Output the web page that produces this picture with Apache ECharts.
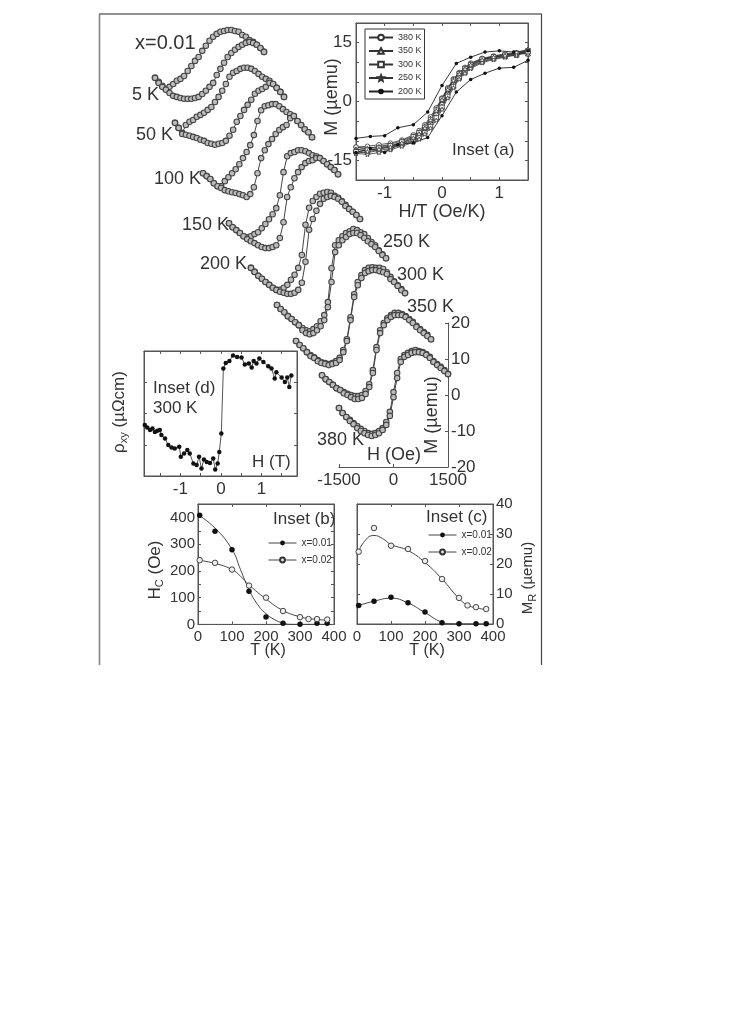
<!DOCTYPE html>
<html><head><meta charset="utf-8">
<style>html,body{margin:0;padding:0;background:#fff}#c{width:739px;height:1024px}</style>
<script src="https://cdn.jsdelivr.net/npm/echarts@6/dist/echarts.min.js"></script>
</head><body><div id="c"></div>
<script>
// ---- main panel: M(H) loops, Oe / µemu
const fieldOe=[-1500,-1400,-1300,-1200,-1100,-1000,-900,-800,-700,-600,-500,-400,-300,-200,-100,0,100,200,300,400,500,600,700,800,900,1000,1100,1200,1300,1400,1500];
const loopNames=['loop 5K','loop 50K','loop 100K','loop 150K','loop 200K','loop 250K','loop 300K','loop 350K','loop 380K'];
const loopShiftH=[-5064,-4514,-3743,-3027,-2422,-1706,-1183,-468,0];
const loopShiftM=[91.7,80.6,69.4,56.9,43.1,33.3,22.2,11.1,0];
const m5Up=[-3.6,-4.7,-5.8,-6.7,-6.1,-5.3,-4.4,-3.9,-3.1,-1.7,-.3,1.1,2.2,3.9,5.3,6.7,7.8,8.6,9.2,9.4,9.7,9.7,9.4,9.2,8.3,7.8,6.9,6.4,5.6,4.7,3.6];
const m5Dn=[-3.6,-5,-6.1,-6.9,-7.8,-8.6,-8.9,-9.2,-9.4,-9.4,-9.4,-9.2,-8.9,-8.1,-7.2,-6.1,-5,-2.8,-1.1,.6,2.2,3.3,4.2,5,5.6,6.1,6.4,6.1,5.6,4.7,3.6];
const m50Up=[-5,-6.4,-7.8,-5.6,-4.7,-4.2,-3.3,-2.8,-2.2,-1.4,-.6,.8,2.2,3.9,5.8,7.8,8.9,9.4,10,10.3,10.3,10,9.4,8.6,7.8,7.2,6.7,5.8,4.7,3.6,2.2];
const m50Dn=[-5,-6.4,-8.1,-8.3,-8.6,-8.9,-9.2,-9.7,-10,-10.6,-10.8,-11.1,-10.8,-10.6,-10,-8.6,-6.9,-4.7,-3.1,-1.4,0,1.4,3.1,3.9,4.4,5,6.1,5.8,4.7,3.6,2.2];
const m100Up=[-7.8,-8.6,-9.4,-10.6,-11.4,-11.4,-10,-8.9,-7.8,-6.7,-5.3,-3.6,-1.9,0,2.8,6.7,9.7,10.8,11.1,11.4,11.4,10.8,10,9.2,8.6,8.1,6.7,5.6,4.4,3.6,2.2];
const m100Dn=[-7.8,-8.6,-9.4,-10.6,-11.4,-11.9,-12.5,-12.8,-13.1,-13.3,-13.6,-13.9,-14.4,-13.6,-11.7,-7.8,-3.6,-1.4,.3,1.7,3.1,4.2,5,5.6,7.5,8.1,6.7,5.6,4.4,3.6,2.2];
const m150Up=[-9.2,-10.3,-11.1,-11.9,-12.8,-13.1,-12.8,-12.2,-11.7,-10.6,-9.4,-8.1,-6.7,-5,-1.4,5,9.4,10.3,10.6,11.1,11.1,10.8,10.3,9.7,9.4,8.9,8.1,7.2,6.4,5.6,4.4];
const m150Dn=[-9.2,-10.3,-11.1,-11.9,-12.8,-13.6,-14.2,-14.7,-15.3,-15.8,-16.1,-16.1,-15.8,-15.3,-13.3,-8.9,-1.9,.8,3.3,5,6.4,7.5,8.1,8.3,8.9,8.9,8.1,7.2,6.4,5.6,4.4];
const m200Up=[-7.8,-8.9,-10,-10.8,-11.7,-12.5,-13.3,-13.9,-13.9,-13.3,-12.5,-11.1,-9.7,-7.8,-4.2,4.2,8.9,10.8,11.9,12.8,13.1,13.3,13.1,12.2,11.7,10.8,9.7,8.6,7.8,6.9,5.8];
const m200Dn=[-7.8,-8.9,-10,-10.8,-11.7,-12.5,-13.3,-13.9,-14.4,-14.7,-15,-15,-14.7,-13.9,-11.9,-6.1,2.8,5.8,8.1,10,11.4,11.9,12.2,11.9,11.4,10.6,9.4,8.6,7.8,6.9,5.8];
const m250Up=[-8.3,-9.4,-10.3,-11.4,-12.2,-13.1,-13.9,-14.7,-15.3,-15.6,-15,-14.2,-12.8,-11.1,-7.5,1.9,8.3,9.7,10.8,11.7,12.2,12.8,12.5,11.9,11.4,10.3,9.2,8.3,6.9,5.8,4.7];
const m250Dn=[-8.3,-9.4,-10.3,-11.4,-12.2,-13.1,-13.9,-15.3,-16.1,-16.4,-16.1,-15.3,-14.2,-12.5,-8.9,-1.9,6.4,8.3,9.7,10.6,11.4,11.7,11.7,11.1,10.3,9.4,8.6,7.8,6.7,5.6,4.7];
const m300Up=[-7.2,-8.3,-9.2,-10.3,-11.1,-11.7,-12.5,-13.1,-13.3,-13.6,-13.3,-12.8,-11.9,-9.7,-6.7,-.6,5.8,9.2,11.1,12.5,13.1,13.3,13.1,13.1,12.8,11.9,10.6,9.4,8.3,7.2,6.1];
const m300Dn=[-7.2,-8.3,-9.2,-10.3,-11.4,-11.9,-12.8,-13.3,-13.6,-13.9,-13.6,-13.3,-12.5,-10.3,-7.2,-1.4,5,8.3,10.3,11.7,12.2,12.5,12.5,12.2,11.9,11.4,10,9.2,8.1,6.9,6.1];
const m350Up=[-5.6,-6.7,-7.5,-8.3,-9.2,-9.7,-10.3,-10.8,-11.1,-11.4,-11.4,-11.1,-10,-8.1,-4.2,2.2,6.9,8.9,10.3,11.1,11.7,11.7,11.4,10.8,10,9.2,8.1,7.2,6.4,5.6,4.4];
const m350Dn=[-5.6,-6.7,-7.5,-8.3,-9.2,-9.7,-10.6,-11.1,-11.7,-12.2,-12.2,-11.9,-10.8,-8.9,-5,1.4,6.1,8.3,9.7,10.6,11.1,11.1,11.1,10.6,9.7,8.9,7.8,6.9,6.1,5.3,4.4];
const m380Up=[-3.6,-5,-6.1,-6.9,-7.8,-8.6,-9.4,-10,-10.6,-10.8,-10.6,-10,-9.2,-7.5,-4.7,.8,6.1,10,11.1,11.7,12.2,12.5,12.2,11.9,11.4,10.6,9.4,8.6,7.8,6.9,5.8];
const m380Dn=[-3.6,-5,-6.1,-7.2,-8.1,-9.2,-10,-10.6,-11.1,-11.4,-11.1,-10.6,-9.7,-8.3,-5.8,-.6,4.7,9.2,10.6,11.1,11.7,11.9,11.9,11.7,11.1,10.3,9.2,8.3,7.5,6.7,5.8];
const loopUp=[m5Up,m50Up,m100Up,m150Up,m200Up,m250Up,m300Up,m350Up,m380Up];
const loopDn=[m5Dn,m50Dn,m100Dn,m150Dn,m200Dn,m250Dn,m300Dn,m350Dn,m380Dn];
// ---- inset (a)
const hOverT=[-1.5,-1.3,-1.1,-.9,-.7,-.5,-.4,-.3,-.2,-.1,0,.1,.2,.3,.4,.5,.7,.9,1.1,1.3,1.5];
const a380Up=[-11.6,-11.9,-11.5,-11.2,-10.6,-9.4,-8.6,-7.2,-5.6,-3.4,-.8,1.8,4.4,6.4,7.9,9.1,10.6,11.3,11.8,12.1,12.6];
const a380Dn=[-11.6,-11.4,-11,-10.6,-9.8,-8.5,-7.4,-5.9,-3.9,-1.6,.9,3.5,5.8,7.4,8.7,9.8,11,11.6,12.2,12.4,12.6];
const a350Up=[-12.2,-12.4,-12,-11.5,-10.8,-9.8,-8.9,-7.6,-6,-3.9,-1.2,1.5,4.1,6.1,7.7,8.9,10.3,11.1,11.6,12,12.2];
const a350Dn=[-12.2,-11.9,-11.5,-10.9,-10,-8.8,-7.7,-6.2,-4.3,-1.9,.8,3.3,5.6,7.3,8.5,9.6,10.9,11.5,12,12.3,12.2];
const a300Up=[-12.8,-13,-12.5,-12,-11,-10.1,-9.2,-8,-6.4,-4.2,-1.5,1.3,3.8,6,7.4,8.7,10.1,10.9,11.5,11.8,12.7];
const a300Dn=[-12.8,-12.4,-11.9,-11.3,-10.3,-9,-8,-6.6,-4.6,-2.2,.6,3.1,5.4,7.1,8.4,9.4,10.8,11.4,11.8,12.3,12.7];
const a250Up=[-13.2,-13.5,-13,-12.3,-11.4,-10.4,-9.6,-8.3,-6.8,-4.8,-2,.9,3.5,5.7,7.2,8.4,9.9,10.7,11.3,11.9,13.3];
const a250Dn=[-13.2,-12.8,-12.2,-11.6,-10.6,-9.3,-8.3,-6.8,-4.8,-2.4,.4,3,5.3,7,8.3,9.3,10.6,11.3,11.7,12.5,13.3];
const a200H=[-1.5,-1.25,-1,-.77,-.5,-.25,0,.25,.5,.75,1,1.25,1.5];
const a200Up=[-9.4,-8.9,-8.7,-6.7,-5.9,-2.7,4.1,9.7,11.3,12.6,12.9,12.6,12.9];
const a200Dn=[-13,-12,-13,-11,-10.5,-9.2,-3.6,2.4,5.6,7.2,8.5,8.7,10.5];
// ---- inset (b), (c)
const tempA=[5,50,100,150,200,250,300,350,380];
const tempB=[5,50,100,150,200,250,300,325,350,380];
const hcA=[408,348,279,124,28,4,1,4,4];
const hcB=[240,230,205,145,100,50,27,20,20,18];
const hcFitAT=[0,50,100,125,150,175,200,225,250,275,380];
const hcFitA=[410,360,280,205,130,75,40,18,5,0,0];
const hcFitBT=[0,50,100,125,150,200,250,300,325,380];
const hcFitB=[240,228,205,180,148,95,52,28,22,15];
const mrA=[6.2,7.6,8.9,7.1,4,.4,.1,.1,.1];
const mrB=[24.1,32,26.1,25,21,15,8.7,6.2,5.6,5];
const mrFitAT=[0,50,100,150,200,250,275,380];
const mrFitA=[6,7.6,8.6,7,3.8,.6,.1,0];
const mrFitBT=[0,25,50,75,100,150,200,250,300,325,350,380];
const mrFitB=[23,28,29.5,28.5,26.5,24.5,20.5,15,8.5,6.3,5.4,4.8];
// ---- inset (d)
const dH=[-1.88,-1.82,-1.75,-1.69,-1.63,-1.57,-1.51,-1.47,-1.38,-1.3,-1.22,-1.14,-1.03,-.99,-.91,-.83,-.77,-.68,-.6,-.54,-.48,-.42,-.35,-.27,-.19,-.14,-.08,-.04,.01,.06,.12,.21,.3,.4,.51,.59,.69,.76,.81,.88,.95,1.05,1.17,1.25,1.33,1.37,1.5,1.58,1.64,1.69,1.74];
const dRho=[-.37,-.45,-.53,-.48,-.59,-.55,-.53,-.69,-.8,-1.01,-1.09,-1.12,-1.06,-1.38,-1.28,-1.17,-1.28,-1.6,-1.65,-1.38,-1.76,-1.47,-1.55,-1.58,-1.44,-1.79,-1.6,-1.23,-.64,1.44,1.62,1.68,1.86,1.81,1.79,1.57,1.6,1.47,1.68,1.6,1.76,1.65,1.51,1.44,1.12,1.32,1.15,1.01,1.15,.85,1.22];

const FONT='"Liberation Sans",Arial,sans-serif', INK='#333', LINE='#555';
const zip=(a,b)=>a.map((v,i)=>[v,b[i]]);
const grids=[],xAxes=[],yAxes=[],series=[];
function panel(box,xa,ya,framed){
  const g=grids.length;
  grids.push({left:box[0],top:box[1],width:box[2],height:box[3],show:!!framed,borderColor:LINE,borderWidth:1,backgroundColor:'transparent',containLabel:false});
  const lab={color:INK,fontFamily:FONT,fontSize:16};
  const xi=xAxes.length, yi=yAxes.length;
  const base={axisLine:{onZero:false,lineStyle:{color:LINE}},axisTick:{inside:true,length:3,lineStyle:{color:LINE}},splitLine:{show:false},minorTick:{show:false}};
  xAxes.push(Object.assign({gridIndex:g,type:'value',position:'bottom'},base,xa,{axisLabel:Object.assign({},lab,xa.axisLabel)}));
  yAxes.push(Object.assign({gridIndex:g,type:'value',position:'left'},base,ya,{axisLabel:Object.assign({},lab,ya.axisLabel)}));
  if(framed){
    xAxes.push(Object.assign({},xAxes[xi],{position:'top',axisLabel:{show:false}}));
    yAxes.push(Object.assign({},yAxes[yi],{position:ya.position==='right'?'left':'right',axisLabel:{show:false}}));
  }
  return {x:xi,y:yi};
}
// hidden full-page scale shared by the offset loops: same Oe and µemu scale as the drawn main axes
const oePerPx=3000/109, pxPerM=3.6;
const wide=panel([0,0,739,1024],
 {min:-1500-339*oePerPx,max:-1500+400*oePerPx,show:false},
 {min:-629/pxPerM,max:395/pxPerM,show:false},false);
const mainAx=panel([339,323,109,144],
 {min:-1500,max:1500,interval:1500,axisLabel:{fontSize:17,margin:5,hideOverlap:false,formatter:v=>String(v)}},
 {min:-20,max:20,interval:10,position:'right',axisLabel:{fontSize:17,margin:3}},false);
xAxes[mainAx.x].axisLine.show=true;
loopNames.forEach((n,i)=>{
  [loopUp[i],loopDn[i]].forEach(arr=>{
    series.push({name:n,type:'line',xAxisIndex:wide.x,yAxisIndex:wide.y,silent:true,animation:false,symbol:'circle',symbolSize:5.5,
      lineStyle:{color:'#444',width:1},itemStyle:{color:'#bbb',borderColor:'#444',borderWidth:1.1},
      data:fieldOe.map((h,k)=>[h+loopShiftH[i],arr[k]+loopShiftM[i]])});
  });
});
// inset (a)
const aAx=panel([356,23,172,157],
 {min:-1.5,max:1.5,interval:.5,axisLabel:{fontSize:17,margin:5,formatter:v=>Number.isInteger(v)?String(v):''}},
 {min:-20,max:20,interval:5,axisLabel:{fontSize:17,margin:4,formatter:v=>Math.abs(v)===15||v===0?String(v):''}},true);
[['380 K','circle',a380Up,a380Dn],['350 K','triangle',a350Up,a350Dn],['300 K','rect',a300Up,a300Dn],['250 K','path://M0,-10 L2.9,-3.1 10,-3.1 4.7,1.2 6.2,8.1 0,4.3 -6.2,8.1 -4.7,1.2 -10,-3.1 -2.9,-3.1Z',a250Up,a250Dn]].forEach(r=>{
  [r[2],r[3]].forEach(v=>series.push({name:r[0],type:'line',xAxisIndex:aAx.x,yAxisIndex:aAx.y,animation:false,symbol:r[1],symbolSize:4.5,
    lineStyle:{color:'#333',width:.8},itemStyle:{color:'#fff',borderColor:'#333',borderWidth:.8},data:zip(hOverT,v)}));
});
[a200Up,a200Dn].forEach(v=>series.push({name:'200 K',type:'line',xAxisIndex:aAx.x,yAxisIndex:aAx.y,animation:false,symbol:'circle',symbolSize:3.5,
  lineStyle:{color:'#222',width:.9},itemStyle:{color:'#111'},data:zip(a200H,v)}));
// inset (b), (c)
const bAx=panel([198,504,136,120.4],
 {min:0,max:400,interval:100,axisLabel:{fontSize:15,margin:5}},
 {min:0,max:450,interval:50,axisLabel:{fontSize:15,margin:3,formatter:v=>v%100?'':String(v)}},true);
const cAx=panel([357,504,136,120],
 {min:0,max:400,interval:100,axisLabel:{fontSize:15,margin:5}},
 {min:0,max:40,interval:10,position:'right',axisLabel:{fontSize:15,margin:3}},true);
function tempSeries(ax,ta,va,fa,fva,tb,vb,fb,fvb){
  const fit=(x,y)=>series.push({name:'fit',type:'line',smooth:.5,xAxisIndex:ax.x,yAxisIndex:ax.y,animation:false,symbol:'none',lineStyle:{color:'#444',width:1},data:zip(x,y)});
  fit(fa,fva);fit(fb,fvb);
  series.push({name:'x=0.01',type:'line',xAxisIndex:ax.x,yAxisIndex:ax.y,animation:false,symbol:'circle',symbolSize:5.5,lineStyle:{width:0,color:'#444'},itemStyle:{color:'#111',borderColor:'#111',borderWidth:0},data:zip(ta,va)});
  series.push({name:'x=0.02',type:'line',xAxisIndex:ax.x,yAxisIndex:ax.y,animation:false,symbol:'circle',symbolSize:5.5,lineStyle:{width:0,color:'#444'},itemStyle:{color:'#eee',borderColor:'#333',borderWidth:.9},data:zip(tb,vb)});
}
tempSeries(bAx,tempA,hcA,hcFitAT,hcFitA,tempB,hcB,hcFitBT,hcFitB);
tempSeries(cAx,tempA,mrA,mrFitAT,mrFitA,tempB,mrB,mrFitBT,mrFitB);
// inset (d)
const dAx=panel([144,351,153,125],
 {min:-1.9,max:1.88,interval:1,axisLabel:{fontSize:17,margin:5,customValues:[-1,0,1]},axisTick:{inside:true,length:3,lineStyle:{color:LINE},customValues:[-1.5,-1,-.5,0,.5,1,1.5]}},
 {min:-2,max:2,interval:1,axisLabel:{show:false}},true);
series.push({name:'rho',type:'line',xAxisIndex:dAx.x,yAxisIndex:dAx.y,animation:false,symbol:'circle',symbolSize:4.5,lineStyle:{color:'#555',width:1},itemStyle:{color:'#111'},data:zip(dH,dRho)});

const txt=(t,x,y,size,extra)=>({type:'text',x,y,silent:true,style:Object.assign({text:t,fill:INK,font:size+'px '+FONT,textAlign:'left',textVerticalAlign:'middle'},extra||{})});
const rot=(t,x,y,size)=>({type:'text',x,y,rotation:Math.PI/2,silent:true,style:{text:t,fill:INK,font:size+'px '+FONT,textAlign:'center',textVerticalAlign:'middle'}});
const rich=(t,x,y,size)=>({type:'text',x,y,rotation:Math.PI/2,silent:true,style:{text:t,fill:INK,font:size+'px '+FONT,textAlign:'center',textVerticalAlign:'middle',
  rich:{s:{fontSize:11,fontFamily:FONT,fill:INK,verticalAlign:'bottom',lineHeight:13,padding:[7,0,0,0]},b:{fontSize:size,fontFamily:FONT,fill:INK,lineHeight:20}}}});
const graphic=[
 {type:'line',shape:{x1:99,y1:14,x2:542,y2:14},style:{stroke:'#222',lineWidth:1.2},silent:true},
 {type:'line',shape:{x1:99.5,y1:14,x2:99.5,y2:665},style:{stroke:'#888',lineWidth:1.6},silent:true},
 {type:'line',shape:{x1:541.5,y1:14,x2:541.5,y2:665},style:{stroke:'#444',lineWidth:1.2},silent:true},
 txt('x=0.01',135,43,20),txt('5 K',132,95,18),txt('50 K',136,135,18),txt('100 K',154,179,18),txt('150 K',182,225,18),txt('200 K',200,264,18),
 txt('250 K',383,242,18),txt('300 K',397,275,18),txt('350 K',407,307,18),txt('380 K',317,440,18),
 txt('H (Oe)',367,455,18),rot('M (µemu)',432,415,18),
 txt('Inset (a)',452,150,17),txt('H/T (Oe/K)',442,212,18,{textAlign:'center'}),rot('M (µemu)',332,97,18),
 txt('Inset (d)',153,388,17),txt('300 K',153,408,17),txt('H (T)',252,462,17),
 rich('{b|ρ}{s|xy}{b| (µΩcm)}',119,412,17),
 txt('Inset (b)',273,519,17),txt('T (K)',268,651,16,{textAlign:'center'}),
 rich('{b|H}{s|C}{b| (Oe)}',155,570,17),
 txt('Inset (c)',426,517,17),txt('T (K)',427,651,16,{textAlign:'center'}),
 rich('{b|M}{s|R}{b| (µemu)}',528,578,15)
];
const legendBase={orient:'vertical',itemWidth:28,itemHeight:6,itemGap:7,padding:0,selectedMode:false,lineStyle:{width:1,color:'#444'},textStyle:{fontSize:10,fontFamily:FONT,color:INK}};
const chart=echarts.init(document.getElementById('c'),null,{renderer:'canvas'});
chart.setOption({
 animation:false,backgroundColor:'#fff',
 legend:[
  {data:['380 K','350 K','300 K','250 K','200 K'],orient:'vertical',left:365,top:29,itemWidth:24,itemHeight:7,itemGap:4.5,padding:[4,3,3,3],borderColor:'#333',borderWidth:1,backgroundColor:'#fff',textStyle:{fontSize:9,fontFamily:FONT,color:INK},selectedMode:false},
  Object.assign({data:['x=0.01','x=0.02'],left:268,top:538},legendBase),
  Object.assign({data:['x=0.01','x=0.02'],left:428,top:530},legendBase)
 ],
 grid:grids,xAxis:xAxes,yAxis:yAxes,series,graphic
});
</script></body></html>
